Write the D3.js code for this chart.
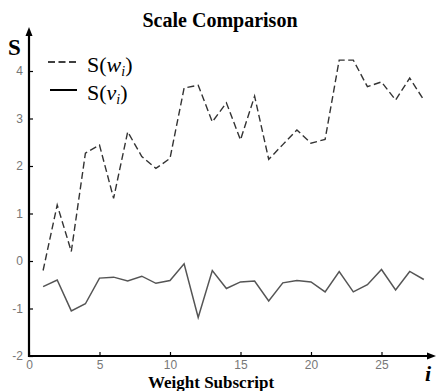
<!DOCTYPE html>
<html><head><meta charset="utf-8">
<script src="https://cdn.jsdelivr.net/npm/d3@7"></script>
<style>body{margin:0;background:#fff}svg{display:block}</style>
</head><body>
<script>
const indices = d3.range(1, 29);
const sW = [-0.2,1.18,0.2,2.27,2.44,1.32,2.72,2.2,1.95,2.16,3.64,3.7,2.93,3.33,2.55,3.47,2.14,2.45,2.76,2.48,2.56,4.23,4.23,3.67,3.77,3.39,3.85,3.39];
const sV = [-0.54,-0.4,-1.05,-0.9,-0.36,-0.34,-0.42,-0.32,-0.47,-0.41,-0.06,-1.19,-0.2,-0.58,-0.44,-0.42,-0.84,-0.46,-0.41,-0.44,-0.65,-0.22,-0.65,-0.5,-0.18,-0.61,-0.22,-0.39];
const xTicks = [0,5,10,15,20,25];
const yTicks = [-2,-1,0,1,2,3,4];

const W = 436, H = 391;
const svg = d3.select("body").append("svg").attr("width", W).attr("height", H);
const x = d3.scaleLinear().domain([0, 28]).range([29, 423.8]);
const y = d3.scaleLinear().domain([-2, 4]).range([356, 71]);
const sans = "'Liberation Sans', Arial, sans-serif";
const serif = "'Liberation Serif', 'Times New Roman', serif";

// axes
const ax = svg.append("g").attr("transform", `translate(0,${y(-2)})`)
  .call(d3.axisBottom(x).tickValues(xTicks).tickFormat(d => String(d)).tickSizeInner(-4).tickSizeOuter(0).tickPadding(4));
ax.select(".domain").remove();
ax.selectAll("line").attr("stroke", "#000").attr("stroke-width", 1.2);
ax.selectAll("text").attr("fill", "#777").attr("font-family", sans).attr("font-size", 12);

const ay = svg.append("g").attr("transform", `translate(${x(0)},0)`)
  .call(d3.axisLeft(y).tickValues(yTicks).tickFormat(d => String(d)).tickSizeInner(-4).tickSizeOuter(0).tickPadding(6));
ay.select(".domain").remove();
ay.selectAll("line").attr("stroke", "#000").attr("stroke-width", 1.2);
ay.selectAll("text").attr("fill", "#777").attr("font-family", sans).attr("font-size", 12);

// axis lines with arrows
svg.append("line").attr("x1", x(0)).attr("x2", 431).attr("y1", y(-2)).attr("y2", y(-2)).attr("stroke", "#000").attr("stroke-width", 2.2);
svg.append("path").attr("d", `M436,${y(-2)} L427,${y(-2)-3.5} L427,${y(-2)+3.5} Z`).attr("fill", "#000");
svg.append("line").attr("x1", x(0)).attr("x2", x(0)).attr("y1", y(-2)+1).attr("y2", 33).attr("stroke", "#000").attr("stroke-width", 2.2);
svg.append("path").attr("d", `M${x(0)},27 L${x(0)-3.5},36 L${x(0)+3.5},36 Z`).attr("fill", "#000");

const line = d3.line().x((d, i) => x(indices[i])).y(d => y(d));
svg.append("path").datum(sW).attr("d", line).attr("fill", "none")
  .attr("stroke", "#333").attr("stroke-width", 1.4).attr("stroke-dasharray", "7,3.5");
svg.append("path").datum(sV).attr("d", line).attr("fill", "none")
  .attr("stroke", "#555").attr("stroke-width", 1.5);

svg.append("text").attr("x", 220).attr("y", 27).attr("text-anchor", "middle")
  .attr("font-family", serif).attr("font-size", 20).attr("font-weight", "bold").text("Scale Comparison");
svg.append("text").attr("x", 8).attr("y", 55).attr("font-family", serif).attr("font-size", 23).attr("font-weight", "bold").text("S");
svg.append("text").attr("x", 211).attr("y", 388).attr("text-anchor", "middle")
  .attr("font-family", serif).attr("font-size", 17).attr("font-weight", "bold").text("Weight Subscript");
svg.append("text").attr("x", 425).attr("y", 381).attr("font-family", serif).attr("font-size", 22)
  .attr("font-style", "italic").attr("font-weight", "bold").text("i");

// legend
svg.append("line").attr("x1", 48).attr("x2", 77).attr("y1", 62).attr("y2", 62)
  .attr("stroke", "#000").attr("stroke-width", 1.6).attr("stroke-dasharray", "7,3.5");
svg.append("line").attr("x1", 50).attr("x2", 77).attr("y1", 90).attr("y2", 90)
  .attr("stroke", "#000").attr("stroke-width", 2);
function legText(yy, v) {
  const t = svg.append("text").attr("x", 87).attr("y", yy).attr("font-family", serif).attr("font-size", 22);
  t.append("tspan").attr("font-family", serif).text("S(");
  t.append("tspan").attr("font-family", serif).attr("font-style", "italic").text(v);
  t.append("tspan").attr("font-family", serif).attr("font-style", "italic").attr("font-size", 14).attr("dy", 4).text("i");
  t.append("tspan").attr("font-family", serif).attr("dy", -4).text(")");
}
legText(72, "w");
legText(100, "v");
</script>
</body></html>
